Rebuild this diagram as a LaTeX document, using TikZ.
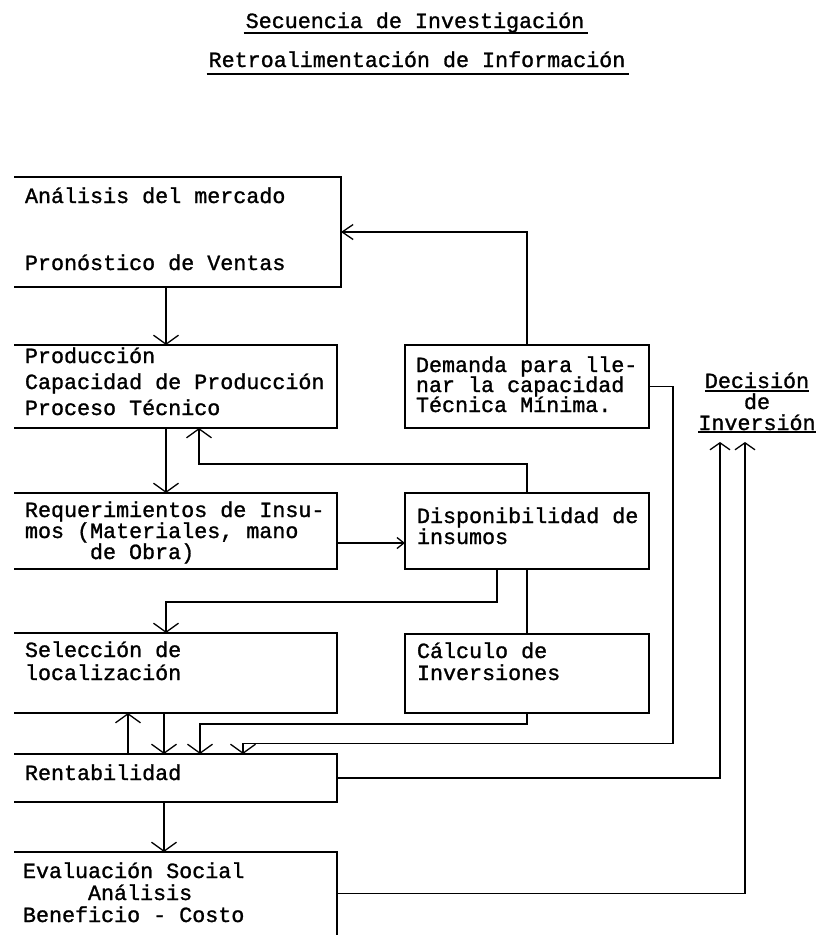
\documentclass[tikz,border=0pt]{standalone}
\usepackage{fontspec}
\newfontfamily\tw{Liberation Mono}[FakeBold=1.2]
\usetikzlibrary{arrows.meta}
\begin{document}
\begin{tikzpicture}[x=1pt,y=-1pt,
  txt/.style={anchor=base west, inner sep=0pt, outer sep=0pt, font=\tw\fontsize{21.7}{26}\selectfont},
  ctxt/.style={txt, anchor=base},
  box/.style={rectangle, inner sep=0pt, outer sep=0pt, anchor=north west},
  boxline/.style={line width=2.3pt, line join=miter},
  conn/.style={line width=1.3pt},
  uline/.style={line width=1.8pt},
  varr/.style={conn, -{Straight Barb[length=9pt,width=25pt,line width=1.3pt]}},
  harr/.style={conn, -{Straight Barb[length=11pt,width=15pt,line width=1.3pt]}},
  sarr/.style={conn, -{Straight Barb[length=7pt,width=11pt,line width=1.3pt]}},
  darr/.style={conn, -{Straight Barb[length=7pt,width=20pt,line width=1.3pt]}}]
\useasboundingbox (0,0) rectangle (822,935);

% titles
\node[ctxt] (ti1) at (415,28) {Secuencia de Investigación};
\node[ctxt] (ti2) at (417,67) {Retroalimentación de Información};
\draw[uline] ([xshift=-2pt,yshift=-5pt]ti1.base west) -- ([xshift=4pt,yshift=-5pt]ti1.base east);
\draw[uline] ([xshift=-2pt,yshift=-7pt]ti2.base west) -- ([xshift=4pt,yshift=-7pt]ti2.base east);

% left column boxes (open on the left)
\node[box, minimum width=327pt, minimum height=110pt] (b1) at (14,177) {};
\node[box, minimum width=323pt, minimum height=83pt] (b2) at (14,345) {};
\node[box, minimum width=323pt, minimum height=76pt] (b3) at (14,493) {};
\node[box, minimum width=323pt, minimum height=80pt] (b4) at (14,633) {};
\node[box, minimum width=323pt, minimum height=48pt] (b5) at (14,754) {};
\node[box, minimum width=323pt, minimum height=83pt] (b6) at (14,852) {};
\foreach \b in {b1,b2,b3,b4,b5}
  \draw[boxline] (\b.north west) -- (\b.north east) -- (\b.south east) -- (\b.south west);
\draw[boxline] (b6.north west) -- (b6.north east) -- (b6.south east);

% right column boxes
\node[box, draw, line width=2.3pt, minimum width=244pt, minimum height=83pt] (dem) at (405,345) {};
\node[box, draw, line width=2.3pt, minimum width=244pt, minimum height=76pt] (disp) at (405,493) {};
\node[box, draw, line width=2.3pt, minimum width=244pt, minimum height=79pt] (calc) at (405,634) {};

% texts
\node[txt] (a1) at (25,203) {Análisis del mercado};
\node[txt] (a2) at (25,270) {Pronóstico de Ventas};
\node[txt] (p1) at (25,363) {Producción};
\node[txt] (p2) at (25,389) {Capacidad de Producción};
\node[txt] (p3) at (25,415) {Proceso Técnico};
\node[txt] (r1) at (25,517) {Requerimientos de Insu-};
\node[txt] (r2) at (25,538) {mos (Materiales, mano};
\node[txt] (r3) at (90,559) {de Obra)};
\node[txt] (s1) at (25,657) {Selección de};
\node[txt] (s2) at (25,680) {localización};
\node[txt] (re) at (25,780) {Rentabilidad};
\node[txt] (e1) at (23,878) {Evaluación Social};
\node[txt] (e2) at (88,900) {Análisis};
\node[txt] (e3) at (23,922) {Beneficio - Costo};
\node[txt] (d1) at (416,372) {Demanda para lle-};
\node[txt] (d2) at (416,392) {nar la capacidad};
\node[txt] (d3) at (416,412) {Técnica Mínima.};
\node[txt] (i1) at (417,523) {Disponibilidad de};
\node[txt] (i2) at (417,544) {insumos};
\node[txt] (c1) at (417,658) {Cálculo de};
\node[txt] (c2) at (417,680) {Inversiones};

% decision label
\node[ctxt] (dec1) at (757,388) {Decisión};
\node[ctxt] (dec2) at (757,409) {de};
\node[ctxt] (dec3) at (757,430) {Inversión};
\draw[conn] ([yshift=-3pt]dec1.base west) -- ([yshift=-3pt]dec1.base east);
\draw[conn] ([yshift=-2pt]dec3.base west) -- ([yshift=-2pt]dec3.base east);
\coordinate (tipA) at ([xshift=-37pt,yshift=-12pt]dec3.base);
\coordinate (tipB) at ([xshift=-12pt,yshift=-12pt]dec3.base);

% connectors
\draw[varr] ([xshift=152pt]b1.south west) -- ([xshift=152pt]b2.north west);
\draw[harr] (dem.north) |- (b1.east);
\draw[varr] ([xshift=152pt]b2.south west) -- ([xshift=152pt]b3.north west);
\draw[varr] (disp.north) -- ++(0,-29) -| ([xshift=185pt]b2.south west);
\draw[sarr] ([yshift=-12pt]b3.east) -- ([yshift=-12pt]disp.west);
\draw[varr] ([xshift=92pt]disp.south west) -- ++(0,33) -| ([xshift=152pt]b4.north west);
\draw[conn] (disp.south) -- (calc.north);
\draw[varr] (calc.south) -- ++(0,11) -| ([xshift=186pt]b5.north west);
\draw[varr] (dem.east) -- ++(24,0) -- ++(0,357) -| ([xshift=229pt]b5.north west);
\draw[varr] ([xshift=150pt]b4.south west) -- ([xshift=150pt]b5.north west);
\draw[varr] ([xshift=114pt]b5.north west) -- ([xshift=114pt]b4.south west);
\draw[varr] ([xshift=150pt]b5.south west) -- ([xshift=150pt]b6.north west);
\draw[darr] (b5.east) -| (tipA);
\draw[darr] (b6.east) -| (tipB);
\end{tikzpicture}
\end{document}
